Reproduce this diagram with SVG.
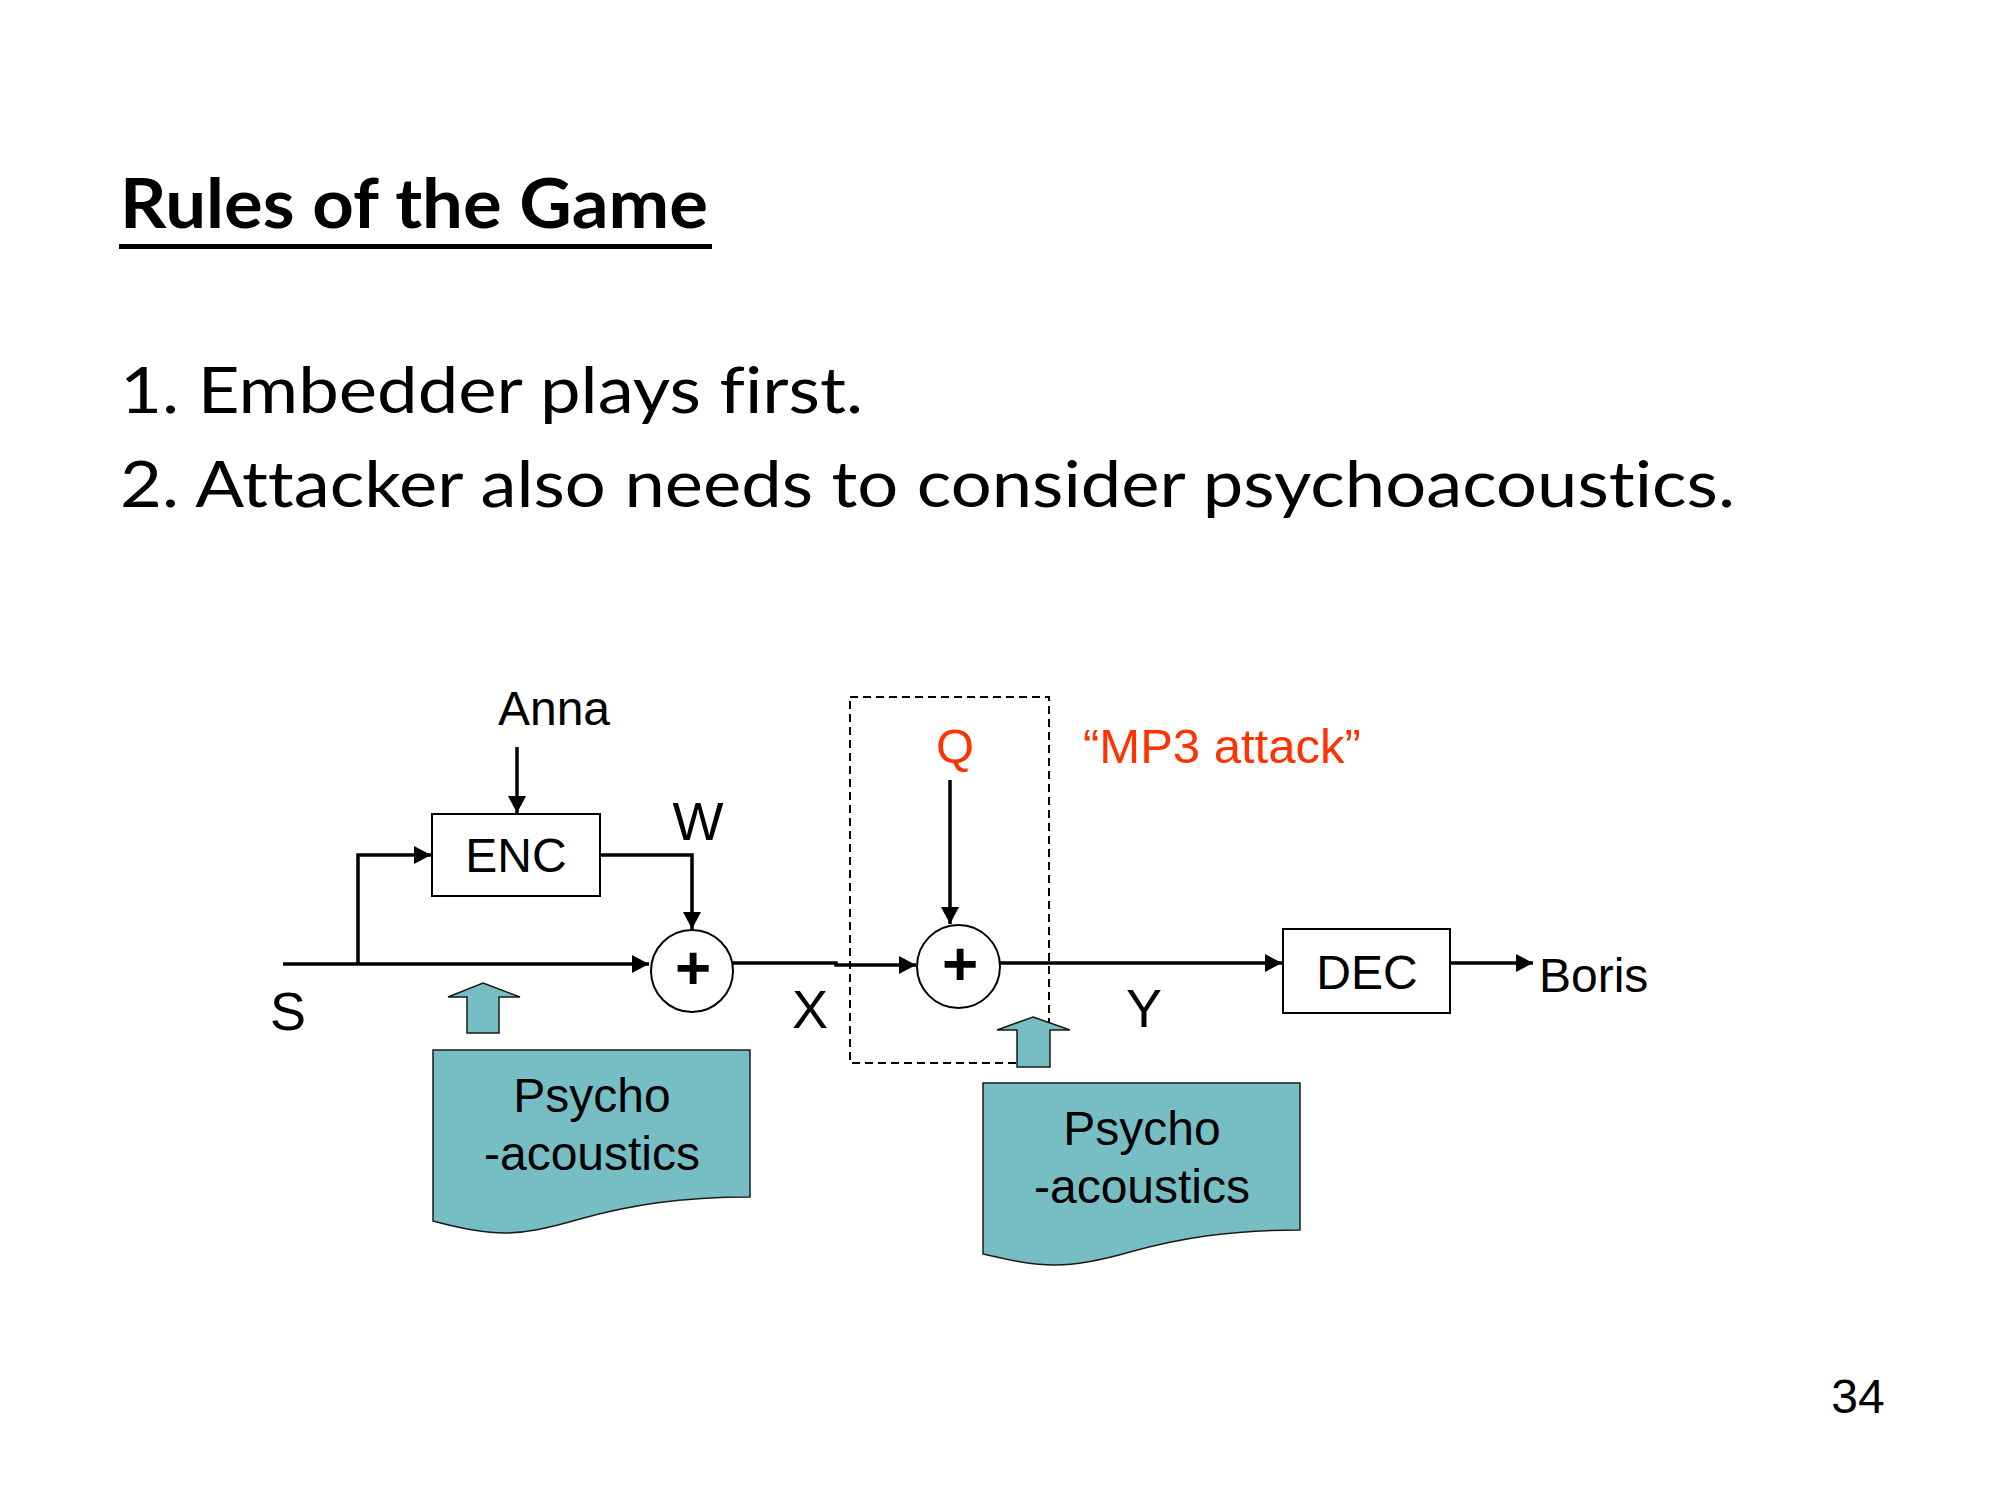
<svg xmlns="http://www.w3.org/2000/svg" width="2000" height="1500" viewBox="0 0 2000 1500">
  <style>
    .title { font-family: Lato, "Open Sans", "Liberation Sans", sans-serif; font-weight: bold; font-size: 68px; fill: #000; font-variant-ligatures: none; }
    .body { font-family: Lato, "Open Sans", "Liberation Sans", sans-serif; font-size: 64px; fill: #000; font-variant-ligatures: none; }
    .lbl { font-family: "Liberation Sans", Arial, sans-serif; font-size: 48px; fill: #000; }
    .big { font-family: "Liberation Sans", Arial, sans-serif; font-size: 54px; fill: #000; }
    .red { font-family: "Liberation Sans", Arial, sans-serif; font-size: 49px; fill: #FF3300; }
    .plus { font-family: "Liberation Sans", Arial, sans-serif; font-size: 62px; font-weight: bold; fill: #000; }
    .box { fill: #fff; stroke: #000; stroke-width: 2; }
    .conn { fill: none; stroke: #000; stroke-width: 3.5; }
    .dash { fill: none; stroke: #000; stroke-width: 2; stroke-dasharray: 8 5; }
    .teal { fill: #76BEC4; stroke: #1a1a1a; stroke-width: 1.5; }
  </style>
  <defs>
    <marker id="ah" markerUnits="userSpaceOnUse" markerWidth="18" markerHeight="20" refX="17" refY="9" orient="auto">
      <path d="M0,0 L17,9 L0,18 Z" fill="#000"/>
    </marker>
  </defs>
  <rect width="2000" height="1500" fill="#fff"/>

  <g id="title">
    <text class="title" x="120" y="228" textLength="588" lengthAdjust="spacingAndGlyphs">Rules of the Game</text>
    <rect x="119" y="244" width="593" height="5" fill="#000"/>
  </g>
  <g id="bullets">
    <text class="body" x="120" y="413" textLength="743" lengthAdjust="spacingAndGlyphs">1. Embedder plays first.</text>
    <text class="body" x="120" y="507" textLength="1615" lengthAdjust="spacingAndGlyphs">2. Attacker also needs to consider psychoacoustics.</text>
  </g>

  <g id="dashbox">
    <rect class="dash" x="850" y="697" width="199" height="366"/>
  </g>

  <g id="connectors">
    <line class="conn" x1="517" y1="747" x2="517" y2="813" marker-end="url(#ah)"/>
    <path class="conn" d="M283,964 H649" marker-end="url(#ah)"/>
    <path class="conn" d="M358,964 V855 H431" marker-end="url(#ah)"/>
    <path class="conn" d="M600,855 H692 V929" marker-end="url(#ah)"/>
    <path class="conn" d="M733,963 H836 V965 H916" marker-end="url(#ah)"/>
    <line class="conn" x1="950" y1="780" x2="950" y2="924" marker-end="url(#ah)"/>
    <path class="conn" d="M1000,963 H1282" marker-end="url(#ah)"/>
    <path class="conn" d="M1450,963 H1533" marker-end="url(#ah)"/>
  </g>

  <g id="anna"><text class="lbl" x="554" y="725" text-anchor="middle">Anna</text></g>
  <g id="enc">
    <rect class="box" x="432" y="814" width="168" height="82"/>
    <text class="lbl" x="516" y="872" text-anchor="middle">ENC</text>
  </g>
  <g id="w"><text class="big" x="698" y="840" text-anchor="middle">W</text></g>
  <g id="s"><text class="big" x="288" y="1030" text-anchor="middle">S</text></g>
  <g id="sum1">
    <circle cx="692" cy="971" r="41" fill="#fff" stroke="#000" stroke-width="2"/>
    <text class="plus" x="693" y="989" text-anchor="middle">+</text>
  </g>
  <g id="x"><text class="big" x="810" y="1028" text-anchor="middle">X</text></g>
  <g id="q"><text class="red" x="955" y="763" text-anchor="middle">Q</text></g>
  <g id="mp3"><text class="red" x="1083" y="763">“MP3 attack”</text></g>
  <g id="sum2">
    <circle cx="958.5" cy="966.5" r="41.5" fill="#fff" stroke="#000" stroke-width="2"/>
    <text class="plus" x="960" y="985" text-anchor="middle">+</text>
  </g>
  <g id="y"><text class="big" x="1144" y="1027" text-anchor="middle">Y</text></g>
  <g id="dec">
    <rect class="box" x="1283" y="929" width="167" height="84"/>
    <text class="lbl" x="1367" y="989" text-anchor="middle">DEC</text>
  </g>
  <g id="boris"><text class="lbl" x="1539" y="992">Boris</text></g>

  <g id="uparrow1">
    <path class="teal" d="M483,983 L520,997 L499,997 L499,1033 L467,1033 L467,997 L448,997 Z"/>
  </g>
  <g id="psycho1">
    <path class="teal" stroke-width="2" d="M433,1050 H750 V1197 C680,1197 630,1205 580,1219 C545,1229 525,1233 505,1233 C480,1233 455,1227 433,1221 Z"/>
    <text class="lbl" x="592" y="1112" text-anchor="middle">Psycho</text>
    <text class="lbl" x="592" y="1170" text-anchor="middle">-acoustics</text>
  </g>
  <g id="uparrow2">
    <path class="teal" d="M1033,1017 L1070,1030 L1050,1030 L1050,1067 L1017,1067 L1017,1030 L997,1030 Z"/>
  </g>
  <g id="psycho2">
    <path class="teal" stroke-width="2" d="M983,1083 H1300 V1230 C1230,1230 1180,1238 1130,1252 C1095,1262 1075,1265 1055,1265 C1030,1265 1005,1259 983,1254 Z"/>
    <text class="lbl" x="1142" y="1145" text-anchor="middle">Psycho</text>
    <text class="lbl" x="1142" y="1203" text-anchor="middle">-acoustics</text>
  </g>

  <g id="pagenum"><text class="lbl" x="1858" y="1413" text-anchor="middle" font-size="36">34</text></g>
</svg>
